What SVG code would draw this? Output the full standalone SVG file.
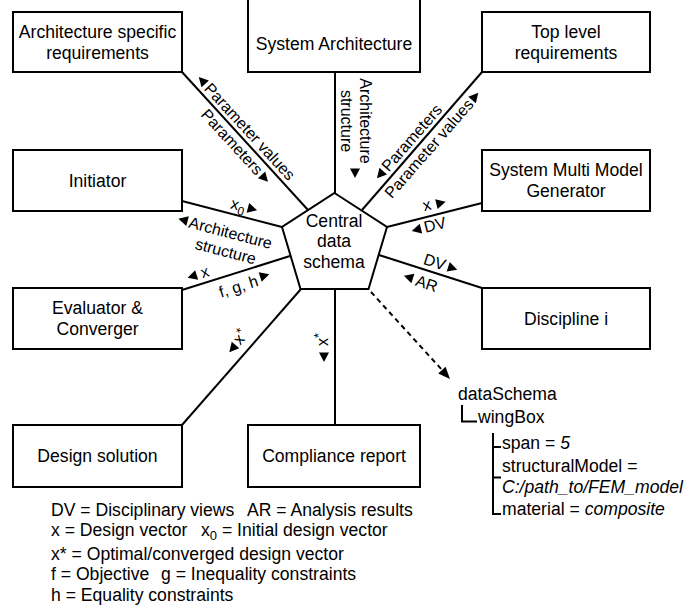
<svg xmlns="http://www.w3.org/2000/svg" xmlns:xlink="http://www.w3.org/1999/xlink" width="698" height="606" viewBox="0 0 698 606">
  <style>
    .box { fill: #ffffff; stroke: #000000; stroke-width: 2; }
    .ln { stroke: #000000; stroke-width: 2; fill: none; }
    .dash { stroke: #000000; stroke-width: 2; fill: none; stroke-dasharray: 5 4; }
    text { font-family: "Liberation Sans", Arial, Helvetica, sans-serif; fill: #000000; }
    .t { font-size: 17.6px; }
    .c { text-anchor: middle; }
    .lbl { font-size: 16px; }
    .it { font-style: italic; }
    .tri { fill: #000000; }
  </style>
  <defs>
    <!-- small filled triangle pointing along +x -->
    <path id="tri" class="tri" d="M5,0 L-4.5,-5 L-4.5,5 Z"/>
  </defs>

  <rect width="698" height="606" fill="#ffffff"/>

  <!-- connectors -->
  <g id="connectors">
    <line class="ln" x1="182" y1="72" x2="308" y2="210"/>
    <line class="ln" x1="335" y1="72" x2="335" y2="193"/>
    <line class="ln" x1="482" y1="72" x2="362" y2="210"/>
    <line class="ln" x1="182" y1="201" x2="282" y2="227"/>
    <line class="ln" x1="182" y1="290" x2="290" y2="256"/>
    <line class="ln" x1="387" y1="227" x2="482" y2="203"/>
    <line class="ln" x1="379" y1="255" x2="482" y2="288"/>
    <line class="ln" x1="301" y1="289" x2="182" y2="425"/>
    <line class="ln" x1="335" y1="289" x2="335" y2="425"/>
    <line class="dash" x1="371" y1="292" x2="443" y2="371"/>
    <polygon class="tri" points="450,379 438.2,373.6 445.6,366.8"/>

    <!-- labels along the connectors -->
    <g transform="translate(182,72) rotate(47.4)">
      <use xlink:href="#tri" transform="translate(20,-9) rotate(180)"/>
      <text class="lbl" x="27" y="-4">Parameter values</text>
      <text class="lbl" x="44" y="16">Parameters</text>
      <use xlink:href="#tri" transform="translate(134,11)"/>
    </g>
    <g transform="translate(335,121) rotate(90)">
      <text class="lbl c" x="0" y="-25">Architecture</text>
      <text class="lbl c" x="0" y="-6">structure</text>
      <use xlink:href="#tri" transform="translate(52,-20)"/>
    </g>
    <g transform="translate(362,209) rotate(-48.8)">
      <use xlink:href="#tri" transform="translate(38,-9) rotate(180)"/>
      <text class="lbl" x="45" y="-4">Parameters</text>
      <text class="lbl" x="27" y="16">Parameter values</text>
      <use xlink:href="#tri" transform="translate(159,11)"/>
    </g>
    <g transform="translate(182,201) rotate(14.7)">
      <text class="lbl" x="48" y="-5">x<tspan font-size="12" dy="4">0</tspan></text>
      <use xlink:href="#tri" transform="translate(70,-10)"/>
      <use xlink:href="#tri" transform="translate(6,18) rotate(180)"/>
      <text class="lbl c" x="55" y="24">Architecture</text>
      <text class="lbl c" x="55" y="43">structure</text>
    </g>
    <g transform="translate(182,290) rotate(-17.4)">
      <use xlink:href="#tri" transform="translate(14,-10) rotate(180)"/>
      <text class="lbl" x="23" y="-5">x</text>
      <text class="lbl" x="35" y="19">f, g, h</text>
      <use xlink:href="#tri" transform="translate(83,11)"/>
    </g>
    <g transform="translate(387,227) rotate(-14.2)">
      <text class="lbl" x="40" y="-6">x</text>
      <use xlink:href="#tri" transform="translate(58,-10)"/>
      <use xlink:href="#tri" transform="translate(28,10) rotate(180)"/>
      <text class="lbl" x="36" y="15">DV</text>
    </g>
    <g transform="translate(379,255) rotate(17.9)">
      <text class="lbl" x="44" y="-5">DV</text>
      <use xlink:href="#tri" transform="translate(74,-10)"/>
      <use xlink:href="#tri" transform="translate(35,12) rotate(180)"/>
      <text class="lbl" x="43" y="18">AR</text>
    </g>
    <g transform="translate(182,425) rotate(-49.05)">
      <use xlink:href="#tri" transform="translate(91,-12) rotate(180)"/>
      <text class="lbl" x="98" y="-8">x<tspan font-size="13" dy="-5">*</tspan></text>
    </g>
    <g transform="translate(335,342) rotate(-90)">
      <text class="lbl" x="-4" y="-7">x<tspan font-size="13" dy="-5">*</tspan></text>
      <use xlink:href="#tri" transform="translate(-15,-11) rotate(180)"/>
    </g>
  </g>

  <!-- central data schema -->
  <g id="central">
    <polygon class="box" points="334.5,193 387,227 368.5,289 300.5,289 282,227"/>
    <text class="t c" x="334" y="227">Central</text>
    <text class="t c" x="334" y="247">data</text>
    <text class="t c" x="334" y="268">schema</text>
  </g>

  <g id="arch-req">
    <rect class="box" x="13" y="12" width="169" height="60"/>
    <text class="t c" x="97.5" y="37.5">Architecture specific</text>
    <text class="t c" x="97.5" y="58.5">requirements</text>
  </g>
  <g id="sys-arch">
    <rect class="box" x="248" y="-1" width="172" height="73"/>
    <text class="t c" x="334" y="50">System Architecture</text>
  </g>
  <g id="top-req">
    <rect class="box" x="482" y="12" width="168" height="60"/>
    <text class="t c" x="566" y="37.5">Top level</text>
    <text class="t c" x="566" y="58.5">requirements</text>
  </g>
  <g id="initiator">
    <rect class="box" x="13" y="150" width="169" height="61"/>
    <text class="t c" x="97.5" y="186.5">Initiator</text>
  </g>
  <g id="smmg">
    <rect class="box" x="482" y="150" width="168" height="61"/>
    <text class="t c" x="566" y="176">System Multi Model</text>
    <text class="t c" x="566" y="197">Generator</text>
  </g>
  <g id="evaluator">
    <rect class="box" x="13" y="288" width="169" height="61"/>
    <text class="t c" x="97.5" y="314">Evaluator &amp;</text>
    <text class="t c" x="97.5" y="335">Converger</text>
  </g>
  <g id="discipline">
    <rect class="box" x="482" y="288" width="168" height="61"/>
    <text class="t c" x="566" y="325">Discipline i</text>
  </g>
  <g id="design-solution">
    <rect class="box" x="13" y="425" width="169" height="62"/>
    <text class="t c" x="97.5" y="462">Design solution</text>
  </g>
  <g id="compliance">
    <rect class="box" x="248" y="425" width="172" height="62"/>
    <text class="t c" x="334" y="462">Compliance report</text>
  </g>

  <!-- example schema tree -->
  <g id="schema-tree">
    <text class="t" x="458" y="400">dataSchema</text>
    <path class="ln" d="M462,405 V421.5 H477" stroke-width="1.6"/>
    <text class="t" x="478" y="423">wingBox</text>
    <path class="ln" d="M493,433 V514 H501 M493,447 H501 M493,477.5 H501" stroke-width="1.6"/>
    <text class="t" x="502" y="449">span = <tspan class="it">5</tspan></text>
    <text class="t" x="502" y="471.5">structuralModel =</text>
    <text class="t it" x="502" y="493">C:/path_to/FEM_model</text>
    <text class="t" x="502" y="515">material = <tspan class="it">composite</tspan></text>
  </g>

  <!-- legend -->
  <g id="legend">
    <text class="t" x="51" y="516">DV = Disciplinary views</text>
    <text class="t" x="247" y="516">AR = Analysis results</text>
    <text class="t" x="51" y="535.5">x = Design vector</text>
    <text class="t" x="201" y="535.5">x<tspan font-size="13" dy="4">0</tspan><tspan dy="-4"> = Initial design vector</tspan></text>
    <text class="t" x="51" y="559.5">x* = Optimal/converged design vector</text>
    <text class="t" x="51" y="580">f = Objective</text>
    <text class="t" x="161" y="580">g = Inequality constraints</text>
    <text class="t" x="51" y="601">h = Equality constraints</text>
  </g>
</svg>
